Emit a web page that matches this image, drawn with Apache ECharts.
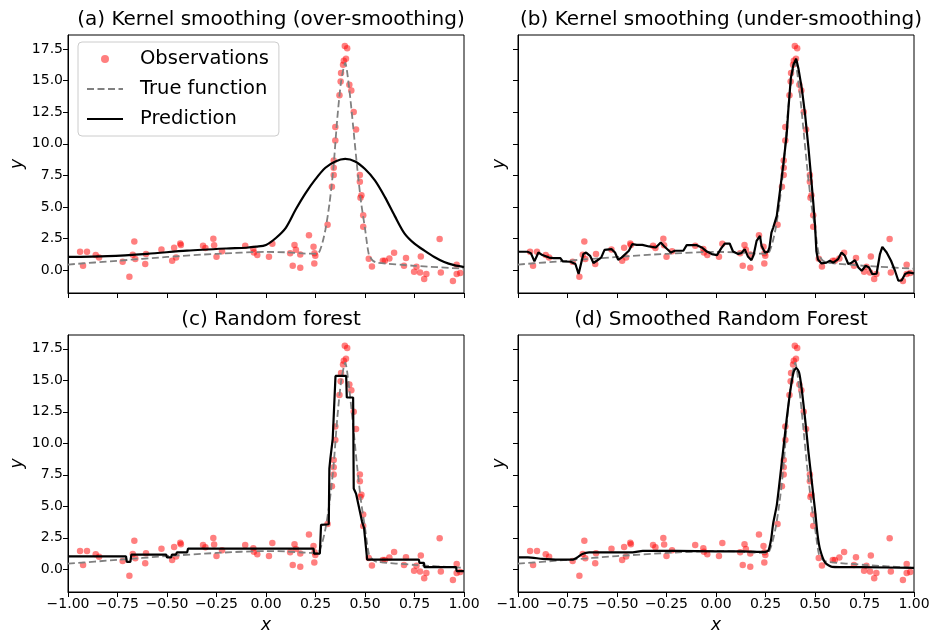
<!DOCTYPE html>
<html>
<head>
<meta charset="utf-8">
<script src="https://cdn.jsdelivr.net/npm/echarts@6/dist/echarts.min.js"></script>
<style>html,body{margin:0;padding:0;background:#fff;}#chart{width:930px;height:633px;}</style>
</head>
<body>
<div id="chart"></div>
<script>
const panelTitles = ['(a) Kernel smoothing (over-smoothing)', '(b) Kernel smoothing (under-smoothing)', '(c) Random forest', '(d) Smoothed Random Forest'];
const seriesNames = ['Observations', 'True function', 'Prediction'];
const yTickValues = [0, 2.5, 5, 7.5, 10, 12.5, 15, 17.5];

const observations = [
[-0.939,1.46],[-0.924,0.35],[-0.904,1.46],[-0.86,1.2],[-0.843,1.0],[-0.724,0.67],[-0.69,-0.51],[-0.665,2.27],
[-0.673,1.22],[-0.66,0.88],[-0.61,0.49],[-0.606,1.28],[-0.528,1.64],[-0.474,0.75],[-0.464,1.77],[-0.454,1.01],
[-0.433,2.11],[-0.43,2.0],[-0.318,1.93],[-0.306,1.75],[-0.266,2.48],[-0.262,1.98],[-0.25,1.06],[-0.222,1.51],
[-0.105,1.93],[-0.064,1.67],[-0.061,1.4],[-0.044,1.2],[0.015,1.06],
[0.032,2.09],[0.122,1.35],[0.135,0.35],[0.144,2.0],[0.151,1.61],[0.173,1.25],[0.173,0.2],[0.217,2.77],
[0.24,1.85],[0.245,1.35],[0.249,1.14],[0.244,0.54],[0.311,3.59],[0.491,3.43],[0.519,0.9],[0.535,0.3],
[0.59,0.75],[0.6,0.75],[0.623,0.93],[0.647,1.38],[0.707,0.96],[0.697,0.35],[0.748,-0.12],[0.76,0.28],
[0.782,1.09],[0.778,-0.17],[0.799,-0.7],[0.81,-0.3],[0.877,2.46],[0.883,-0.17],[0.944,-0.85],[0.963,0.43],
[0.963,-0.3],[0.981,-0.22],
[0.398,17.74],[0.41,17.56],[0.404,16.72],[0.393,16.56],[0.389,16.25],[0.379,15.59],[0.377,14.93],[0.421,14.67],
[0.431,14.22],[0.371,13.83],[0.443,12.51],[0.35,11.33],[0.455,11.13],[0.35,10.26],[0.342,8.68],[0.342,8.1],
[0.342,7.53],[0.474,7.53],[0.474,7.0],[0.333,6.6],[0.482,5.92],[0.477,5.74],[0.491,4.35]
];

const trueFunction = [
[-1,0.45],[-0.75,0.75],[-0.5,1.05],[-0.25,1.3],[0,1.45],[0.1,1.42],[0.2,1.32],[0.26,1.3],[0.28,1.9],[0.3,3.2],
[0.32,5.2],[0.34,8.0],[0.36,12.0],[0.38,15.0],[0.4,16.4],[0.42,14.4],[0.44,11.4],[0.46,8.2],[0.48,5.4],[0.5,3.3],
[0.52,1.2],[0.54,0.75],[0.56,0.6],[0.75,0.35],[1.0,0.12]
];

const predA = [
[-1,1.05],[-0.8,1.12],[-0.6,1.3],[-0.4,1.55],[-0.2,1.72],[-0.1,1.78],[-0.05,1.86],[0,2.0],[0.05,2.55],[0.1,3.35],
[0.15,4.8],[0.2,6.1],[0.25,7.2],[0.3,8.1],[0.35,8.6],[0.4,8.8],[0.45,8.6],[0.5,8.0],[0.55,7.1],[0.6,5.8],
[0.65,4.3],[0.7,2.9],[0.75,2.1],[0.8,1.55],[0.85,1.05],[0.9,0.65],[0.95,0.4],[1.0,0.25]
];

const predB = [
[-1,1.46],[-0.952,1.46],[-0.935,1.35],[-0.917,0.7],[-0.897,1.4],[-0.877,1.2],[-0.843,1.0],[-0.82,0.96],[-0.786,0.96],
[-0.774,0.7],[-0.735,0.67],[-0.71,0.49],[-0.694,-0.3],[-0.682,0.49],[-0.67,1.28],[-0.656,1.4],[-0.636,1.14],[-0.619,0.57],
[-0.602,0.75],[-0.58,1.0],[-0.563,1.61],[-0.528,1.67],[-0.51,1.4],[-0.494,0.83],[-0.477,1.0],[-0.44,1.54],[-0.423,2.06],
[-0.4,2.0],[-0.372,2.0],[-0.338,1.88],[-0.304,1.8],[-0.279,2.19],[-0.262,1.9],[-0.228,1.4],[-0.208,1.54],[-0.165,1.54],
[-0.148,1.98],[-0.097,1.98],[-0.072,1.8],[-0.046,1.48],[-0.021,1.28],[0.005,1.2],[0.027,1.75],[0.044,2.11],[0.069,2.11],
[0.086,1.48],[0.112,1.28],[0.128,1.35],[0.145,1.67],[0.162,1.06],[0.179,0.8],[0.19,1.2],[0.205,2.32],[0.222,2.72],
[0.23,1.93],[0.247,1.4],[0.262,1.45],[0.27,1.8],[0.28,2.98],[0.289,3.37],[0.307,4.3],[0.323,6.26],[0.34,8.37],
[0.357,10.73],[0.366,12.83],[0.378,15.19],[0.391,16.25],[0.405,16.72],[0.416,15.98],[0.433,14.4],[0.45,12.31],
[0.467,9.68],[0.479,7.58],[0.492,5.22],[0.5,3.6],[0.507,1.5],[0.515,0.85],[0.533,0.54],[0.558,0.6],[0.575,0.75],
[0.592,0.6],[0.617,0.88],[0.634,1.4],[0.651,1.14],[0.668,0.49],[0.685,0.6],[0.702,0.8],[0.719,0.22],[0.736,-0.04],
[0.756,0.35],[0.773,0.22],[0.789,-0.3],[0.811,-0.28],[0.828,1.28],[0.84,1.85],[0.862,1.4],[0.884,0.75],[0.904,-0.04],
[0.921,-0.83],[0.938,-0.8],[0.955,-0.3],[0.972,-0.17],[1.0,-0.25]
];

const predC = [
[-1,1.03],[-0.707,1.03],[-0.703,0.59],[-0.685,0.59],[-0.68,1.17],[-0.504,1.17],[-0.5,0.95],[-0.479,0.95],[-0.475,1.17],
[-0.455,1.17],[-0.45,1.35],[-0.398,1.35],[-0.394,1.64],[0.24,1.64],[0.243,1.25],[0.272,1.25],[0.278,3.53],[0.317,3.58],
[0.32,8.0],[0.325,8.79],[0.337,10.36],[0.351,15.35],[0.405,15.35],[0.408,13.64],[0.44,13.64],[0.443,6.42],[0.455,6.0],
[0.485,3.79],[0.495,3.3],[0.511,0.77],[0.772,0.77],[0.775,0.51],[0.798,0.51],[0.8,0.17],[0.96,0.17],[0.963,-0.15],[1.0,-0.15]
];

const predD = [
[-1,0.95],[-0.95,0.95],[-0.877,0.83],[-0.793,0.77],[-0.725,0.77],[-0.7,0.95],[-0.675,1.22],[-0.641,1.35],[-0.539,1.35],
[-0.421,1.35],[-0.37,1.46],[-0.201,1.46],[0.0,1.43],[0.137,1.43],[0.239,1.38],[0.264,1.48],[0.278,2.35],[0.289,3.66],
[0.307,5.1],[0.323,7.2],[0.34,9.57],[0.357,11.94],[0.374,14.03],[0.391,15.61],[0.405,16.0],[0.42,15.61],[0.433,14.3],
[0.45,11.94],[0.467,9.31],[0.484,6.94],[0.501,4.58],[0.513,2.74],[0.526,1.56],[0.552,0.51],[0.586,0.2],[0.73,0.17],[1.0,0.12]
];

const predictions = [predA, predB, predC, predD];
const predSmooth = [0.3, 0, 0, 0.2];

const FONT = 'DejaVu Sans';
const grids = [
  {left: 68, top: 35, width: 396, height: 258},
  {left: 518, top: 35, width: 396, height: 258},
  {left: 68, top: 335, width: 396, height: 257},
  {left: 518, top: 335, width: 396, height: 257}
];
const fmtX = v => (v < 0 ? '\u2212' : '') + Math.abs(v).toFixed(2);
const fmtY = v => v.toFixed(1);

const xAxes = [], yAxes = [], series = [], titles = [];
grids.forEach((g, i) => {
  const bottom = i >= 2, leftCol = i % 2 === 0;
  xAxes.push({
    type: 'value', gridIndex: i, min: -1, max: 1, interval: 0.25,
    name: bottom ? 'x' : '', nameLocation: 'middle', nameGap: 25,
    nameTextStyle: {fontFamily: FONT, fontSize: 17, fontStyle: 'italic', color: '#000'},
    axisLine: {show: true, onZero: false, lineStyle: {color: '#000', width: 1}},
    axisTick: {show: true, inside: false, length: 5, lineStyle: {color: '#000'}},
    axisLabel: {show: bottom, formatter: fmtX, fontFamily: FONT, fontSize: 14, color: '#000', margin: 5},
    splitLine: {show: false}
  });
  yAxes.push({
    type: 'value', gridIndex: i, min: -1.8, max: 18.6,
    name: 'y', nameLocation: 'middle', nameGap: leftCol ? 42 : 10, nameRotate: 90,
    nameTextStyle: {fontFamily: FONT, fontSize: 17, fontStyle: 'italic', color: '#000'},
    axisLine: {show: true, onZero: false, lineStyle: {color: '#000', width: 1}},
    axisTick: {show: true, inside: false, length: 5, customValues: yTickValues, lineStyle: {color: '#000'}},
    axisLabel: {show: leftCol, customValues: yTickValues, formatter: fmtY, fontFamily: FONT, fontSize: 14, color: '#000', margin: 5},
    splitLine: {show: false}
  });
  titles.push({
    text: panelTitles[i], left: g.left + g.width / 2, top: g.top - 30, textAlign: 'center',
    textStyle: {fontFamily: FONT, fontSize: 20, fontWeight: 'normal', color: '#000'}
  });
  series.push({
    name: seriesNames[0], type: 'scatter', xAxisIndex: i, yAxisIndex: i, data: observations,
    symbol: 'circle', symbolSize: 6.5, z: 2,
    itemStyle: {color: 'red', opacity: 0.5}
  });
  series.push({
    name: seriesNames[1], type: 'line', xAxisIndex: i, yAxisIndex: i, data: trueFunction,
    symbol: 'none', smooth: 0.25, z: 3,
    lineStyle: {color: '#808080', width: 1.8, type: [7, 3.5]},
    itemStyle: {color: '#808080'}
  });
  series.push({
    name: seriesNames[2], type: 'line', xAxisIndex: i, yAxisIndex: i, data: predictions[i],
    symbol: 'none', smooth: predSmooth[i], z: 4,
    lineStyle: {color: '#000', width: 2.2},
    itemStyle: {color: '#000'}
  });
});

const chart = echarts.init(document.getElementById('chart'), null, {renderer: 'canvas'});
chart.setOption({
  backgroundColor: '#fff',
  animation: false,
  title: titles,
  grid: grids.map(g => Object.assign({show: true, borderColor: '#000', borderWidth: 1, backgroundColor: 'transparent', containLabel: false, outerBoundsMode: 'none'}, g)),
  xAxis: xAxes,
  yAxis: yAxes,
  legend: {
    data: [
      {name: seriesNames[0], icon: 'circle', itemStyle: {color: 'rgba(255,0,0,0.5)', opacity: 1}},
      {name: seriesNames[1], itemStyle: {opacity: 0}},
      {name: seriesNames[2], itemStyle: {opacity: 0}}
    ],
    orient: 'vertical', left: 78, top: 42,
    padding: [7, 10, 7, 8], itemGap: 10, itemWidth: 36, itemHeight: 8,
    backgroundColor: 'rgba(255,255,255,0.8)', borderColor: '#ccc', borderWidth: 1, borderRadius: 4,
    textStyle: {fontFamily: FONT, fontSize: 19.5, color: '#000', padding: [0, 0, 0, 12]},
    selectedMode: false
  },
  series: series
});
</script>
</body>
</html>
